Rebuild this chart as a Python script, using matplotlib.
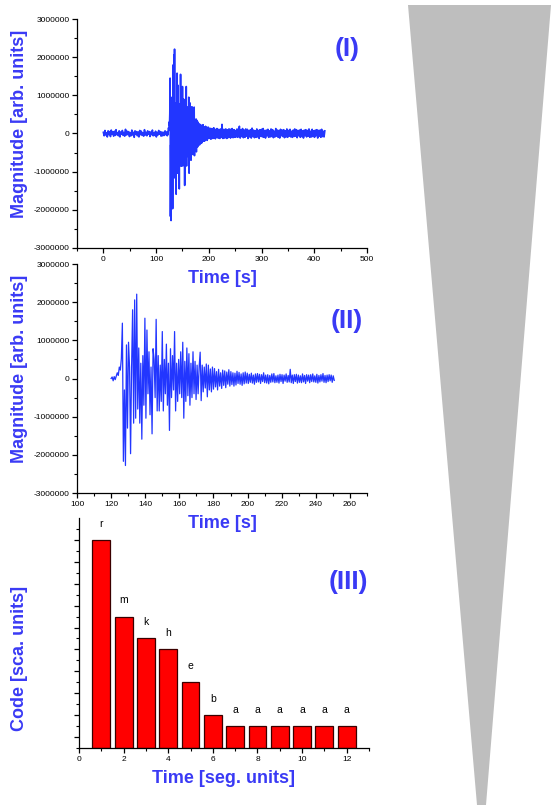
import numpy as np
import matplotlib
matplotlib.use("Agg")
import matplotlib.pyplot as plt
from matplotlib.patches import Polygon
from matplotlib.ticker import MultipleLocator, NullFormatter

plt.rcParams['font.family'] = ['Liberation Sans', 'DejaVu Sans']

# ---- data (magnitudes in thousands of arb. units) ----
# event window, sampled every 0.6 s from 120 s
t0_event, dt_event = 120.0, 0.6
event_k = [
    0, 40, -60, 50, -30, 60, 150, 80, 300, 220,
    520, 1450, -2170, -300, -2280, 880, -1300, 950, 300, -1970,
    300, 1800, -1170, 2060, -1040, 2210, -800, 800, -1170, 400,
    -1590, 600, -700, 1580, -1040, 1270, -400, 700, -950, 300,
    -1450, 780, 500, -500, 1550, -850, 600, -850, 350, -600,
    1230, -850, 500, -400, 900, -700, 400, -1360, 780, -500,
    600, -300, 1230, -850, 400, -600, 500, -400, 700, -500,
    950, -1040, 450, -600, 800, -450, 650, -700, 400, -500,
    700, -400, 450, -550, 350, -400, 300, 690, -580, 350,
    -350, 300, -250, 380, -480, 350, -300, 250, -350, 300,
    -280,
    260, -220, 180, -300, 240, -200, 150, -260, 220, -180, 200, -240, 170, -150, 230, -200,
    180, -160, 150, -200, 140, -170, 190, -130, 160, -150, 120, -180, 150, -140, 170, -120, 140,
    -130, 110, -100, 140, -120, 90, -150, 120, -100, 130,
    -90, 110, -130, 100, -80, 150, -110, 90, -120, 100,
    -140, 80, -100, 120, -90, 130, -110, 70, -100, 90,
    -120, 110, -80, 100, -130, 90, -70, 120, -100, 80,
    -90, 240, -110, 90, -130, 100, -80, 110, -120, 90,
    -100, 70, -110, 120, -90, 80, -130, 100, -70, 90,
    -110, 100, -80, 120, -90, 70, -100, 110, -120, 80,
    -90, 100, -70, 130, -100, 80, -110, 90, -80, 100,
    -60, 90, -100, 70, -50,
]

# background noise before the event (0 s .. 118.5 s, every 1.5 s)
t0_pre, dt_noise = 0.0, 1.5
pre_k = [
    30, -60, 80, -40, 20, -90, 70, -30, 50, -80, 90, -20, 40, -70, 60, -50, 100, -30, 20, -60,
    70, -90, 40, -20, 80, -50, 30, -70, 110, -40, 60, -30, 50, -80, 20, -60, 90, -40, 30, -100,
    70, -20, 50, -60, 40, -90, 80, -30, 60, -50, 20, -70, 100, -40, 30, -60, 70, -20, 50, -80,
    40, -30, 90, -60, 20, -50, 60, -90, 30, -40, 80, -20, 50, -70, 40, -60, 30, -50, 70, -30,
]

# coda noise after the event (252 s .. 420 s, every 1.5 s)
t0_post = 252.0
post_k = [
    -90, 120, -100, 80, 190, -120, 100, -80, 130, -110,
    90, -100, 120, -70, 110, -130, 80, -90, 100, -120,
    140, -80, 90, -110, 70, -100, 120, -90, 80, -130,
    100, -70, 110, -90, 130, -100, 80, -120, 90, -60,
    110, -100, 70, -90, 120, -80, 100, -110, 60, -90,
    130, -70, 90, -100, 80, -120, 110, -60, 90, -80,
    100, -110, 70, -90, 120, -100, 80, -70, 110, -90,
    60, -100, 90, -80, 120, -70, 100, -110, 80, -60,
    90, -100, 110, -80, 70, -120, 90, -60, 100, -90,
    80, -70, 120, -100, 60, -90, 110, -80, 70, -100,
    90, -60, 100, -120, 80, -70, 90, -100, 110, -80,
    60, -90, 70,
]

segments = list(range(1, 13))
code_heights = [19, 12, 10, 9, 6, 3, 2, 2, 2, 2, 2, 2]
code_letters = ['r', 'm', 'k', 'h', 'e', 'b', 'a', 'a', 'a', 'a', 'a', 'a']

# ---- assemble time axes ----
t_event = t0_event + dt_event * np.arange(len(event_k))
t_pre = t0_pre + dt_noise * np.arange(len(pre_k))
t_post = t0_post + dt_noise * np.arange(len(post_k))
v_event = np.array(event_k) * 1000.0
t_full = np.concatenate([t_pre, t_event, t_post])
v_full = np.concatenate([np.array(pre_k), np.array(event_k), np.array(post_k)]) * 1000.0

W, H = 551, 805
fig = plt.figure(figsize=(W / 100, H / 100), dpi=100)

txt_blue = '#3a3af5'
line_blue = '#2236ff'
lab_size = 13


def fx(px):
    return px / W


def fy(py):
    return 1 - py / H


def style_axes(ax):
    ax.set_facecolor('none')
    for s in ('top', 'right'):
        ax.spines[s].set_visible(False)
    for s in ('left', 'bottom'):
        ax.spines[s].set_linewidth(0.9)
    ax.tick_params(which='major', direction='out', length=3.5, width=0.9, labelsize=6, pad=2)
    ax.tick_params(which='minor', direction='out', length=2, width=0.8)


def ylab_fmt(ax):
    ax.set_yticks(np.arange(-3000000, 3000001, 1000000))
    ax.set_yticklabels([f"{int(v)}" for v in np.arange(-3000000, 3000001, 1000000)])
    ax.yaxis.set_minor_locator(MultipleLocator(500000))


# panel I
ax1 = fig.add_axes([fx(77), fy(248), fx(290), 229 / H])
ax1.plot(t_full, v_full, color=line_blue, lw=1.2)
ax1.set_xlim(-50, 500)
ax1.set_ylim(-3000000, 3000000)
ax1.xaxis.set_major_locator(MultipleLocator(100))
ax1.xaxis.set_minor_locator(MultipleLocator(50))
ylab_fmt(ax1)
style_axes(ax1)
ax1.set_xlabel('Time [s]', fontsize=lab_size, fontweight='bold', color=txt_blue, labelpad=5)
ax1.set_ylabel('Magnitude [arb. units]', fontsize=lab_size, fontweight='bold', color=txt_blue)
ax1.yaxis.set_label_coords(-0.17, 0.54)
ax1.text(0.93, 0.87, '(I)', transform=ax1.transAxes, fontsize=19, fontweight='bold',
         color=txt_blue, ha='center', va='center')

# panel II
ax2 = fig.add_axes([fx(77), fy(493), fx(290), 229 / H])
ax2.plot(t_event, v_event, color=line_blue, lw=0.9)
ax2.set_xlim(100, 270)
ax2.set_ylim(-3000000, 3000000)
ax2.xaxis.set_major_locator(MultipleLocator(20))
ax2.xaxis.set_minor_locator(MultipleLocator(10))
ylab_fmt(ax2)
style_axes(ax2)
ax2.set_xlabel('Time [s]', fontsize=lab_size, fontweight='bold', color=txt_blue, labelpad=5)
ax2.set_ylabel('Magnitude [arb. units]', fontsize=lab_size, fontweight='bold', color=txt_blue)
ax2.yaxis.set_label_coords(-0.17, 0.54)
ax2.text(0.93, 0.75, '(II)', transform=ax2.transAxes, fontsize=19, fontweight='bold',
         color=txt_blue, ha='center', va='center')

# panel III
ax3 = fig.add_axes([fx(79), fy(748), fx(290), 230 / H])
bars = ax3.bar(segments, code_heights, width=0.8, color='#ff0000', edgecolor='#3a0000', linewidth=0.9)
for xb, hb, lt in zip(segments, code_heights, code_letters):
    ax3.annotate(lt, (xb, hb), xytext=(0, 8), textcoords='offset points',
                 ha='center', va='bottom', fontsize=7.5)
ax3.set_xlim(0, 13)
ax3.set_ylim(0, 21)
ax3.xaxis.set_major_locator(MultipleLocator(2))
ax3.xaxis.set_minor_locator(MultipleLocator(1))
ax3.set_yticks(np.arange(1, 21, 2))
ax3.yaxis.set_minor_locator(MultipleLocator(2))
ax3.yaxis.set_major_formatter(NullFormatter())
style_axes(ax3)
ax3.set_xlabel('Time [seg. units]', fontsize=lab_size, fontweight='bold', color=txt_blue, labelpad=5)
ax3.set_ylabel('Code [sca. units]', fontsize=lab_size, fontweight='bold', color=txt_blue)
ax3.yaxis.set_label_coords(-0.177, 0.39)
ax3.text(0.93, 0.72, '(III)', transform=ax3.transAxes, fontsize=19, fontweight='bold',
         color=txt_blue, ha='center', va='center')

# gray wedge on the right
wedge = Polygon([(fx(408), fy(5)), (fx(551), fy(5)), (fx(486), fy(805)), (fx(477), fy(805))],
                closed=True, transform=fig.transFigure, facecolor='#bebebe', edgecolor='none')
fig.patches.append(wedge)

fig.savefig('out.png', dpi=100)
